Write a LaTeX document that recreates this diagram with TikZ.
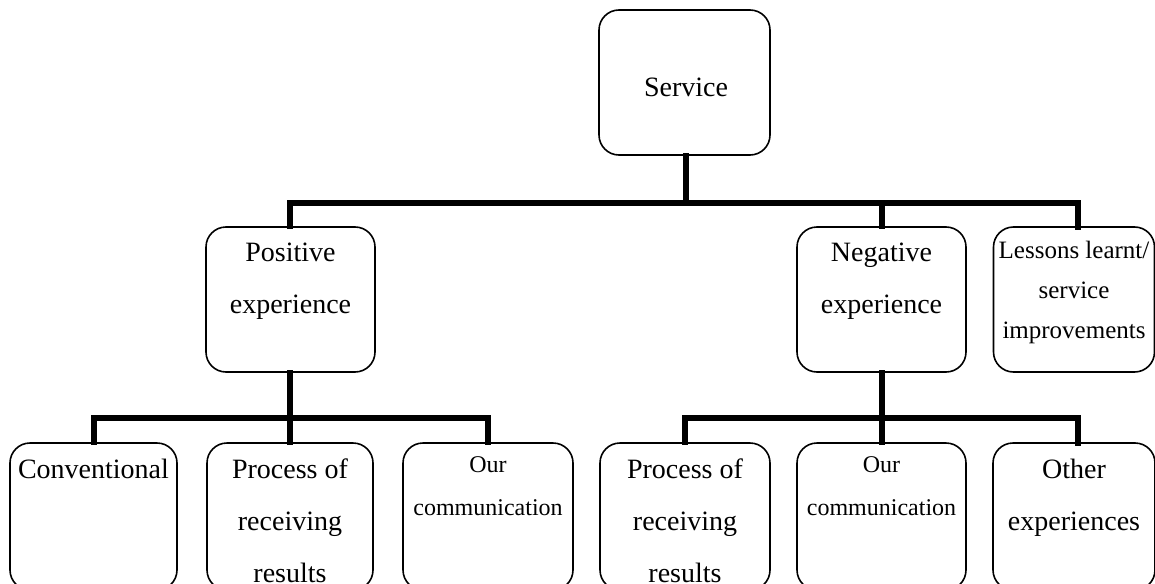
\documentclass[tikz,border=0pt]{standalone}
\usepackage{fontspec}
\setmainfont{Liberation Serif}
\begin{document}
\begin{tikzpicture}[x=1pt,y=-1pt,
  box/.style={draw, line width=1.6pt, rounded corners=20pt, rectangle, inner sep=0pt},
  conn/.style={line width=6pt, line cap=rect, line join=miter},
  txt/.style={inner sep=0pt, align=center, anchor=north},
  bigtxt/.style={txt, font=\fontsize{28}{52}\selectfont},
  smalltxt/.style={txt, font=\fontsize{24}{43}\selectfont},
  midtxt/.style={txt, font=\fontsize{25}{40}\selectfont}]
\useasboundingbox (0,0) rectangle (1155,583);
\clip (0,0) rectangle (1155,583);

% top level
\node[box, minimum width=171pt, minimum height=145pt] (svc) at (684.5,82.5) {};
% second level
\node[box, minimum width=169pt, minimum height=145pt] (pos) at (290.5,299.5) {};
\node[box, minimum width=169pt, minimum height=145pt] (neg) at (881.5,299.5) {};
\node[box, minimum width=161pt, minimum height=145pt] (les) at (1074,299.5) {};
% third level
\node[box, minimum width=167pt, minimum height=147pt] (conv)  at (93.5,516.5) {};
\node[box, minimum width=166pt, minimum height=147pt] (procA) at (290,516.5) {};
\node[box, minimum width=170pt, minimum height=147pt] (ourA)  at (488,516.5) {};
\node[box, minimum width=170pt, minimum height=147pt] (procB) at (685,516.5) {};
\node[box, minimum width=169pt, minimum height=147pt] (ourB)  at (881.5,516.5) {};
\node[box, minimum width=162pt, minimum height=147pt] (other) at (1074,516.5) {};

% labels
\node[inner sep=0pt, anchor=base, font=\fontsize{28}{34}\selectfont] (tsvc) at (686,97) {Service};
\node[bigtxt] (tpos) at (290.5,243) {Positive\\experience};
\node[bigtxt] (tneg) at (881.5,243) {Negative\\experience};
\node[midtxt] (tles) at (1074,241) {Lessons learnt/\\service\\improvements};
\node[bigtxt] (tconv)  at (93.5,459) {Conventional};
\node[bigtxt] (tprocA) at (290,459) {Process of\\receiving\\results};
\node[smalltxt] (tourA) at (488,456) {Our\\communication};
\node[bigtxt] (tprocB) at (685,459) {Process of\\receiving\\results};
\node[smalltxt] (tourB) at (881.5,456) {Our\\communication};
\node[bigtxt] (tother) at (1074,459) {Other\\experiences};

% junction points of the connector bars
\coordinate (busA) at (686,203);
\coordinate (busB) at (290,418);
\coordinate (busC) at (882,418);
\coordinate (lesIn) at (1078,227);
\coordinate (otherIn) at (1078,443);

% connectors
\draw[conn] (svc.south -| busA) -- (busA);
\draw[conn] (pos.north -| busB) |- (busA);
\draw[conn] (neg.north -| busC) |- (busA);
\draw[conn] (lesIn) |- (busA);

\draw[conn] (pos.south -| busB) -- (busB);
\draw[conn] (conv.north) |- (busB);
\draw[conn] (procA.north) -- (busB);
\draw[conn] (ourA.north) |- (busB);

\draw[conn] (neg.south -| busC) -- (busC);
\draw[conn] (procB.north) |- (busC);
\draw[conn] (ourB.north -| busC) -- (busC);
\draw[conn] (otherIn) |- (busC);
\end{tikzpicture}
\end{document}
